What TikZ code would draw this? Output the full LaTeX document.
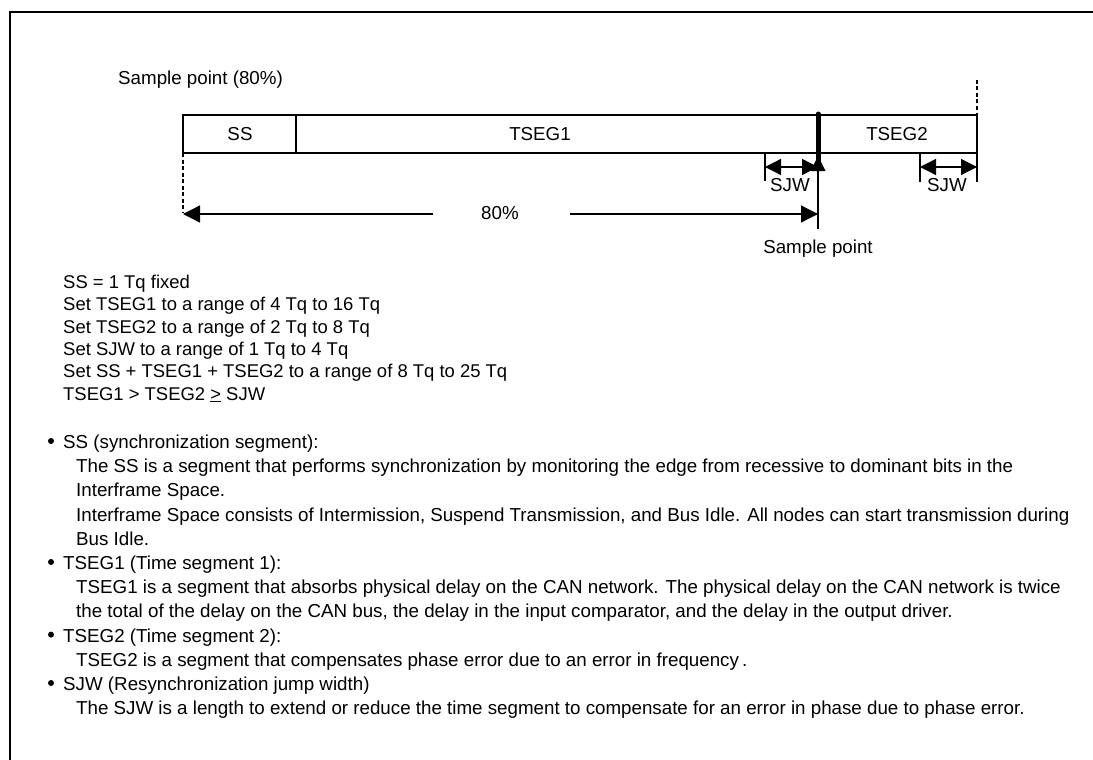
\documentclass[tikz,border=0pt]{standalone}
\usepackage{fontspec}
\setmainfont{Liberation Sans}
\usetikzlibrary{arrows.meta}
\newcommand\myfs{\fontsize{18.75}{22}\selectfont}
\newcommand\myfsb{\fontsize{18.45}{22}\selectfont}
\tikzset{
  txt/.style={font=\myfs, inner sep=0pt, anchor=base west},
  rtxt/.style={font=\myfsb, inner sep=0pt, anchor=base west},
  lbl/.style={font=\myfs, inner sep=0pt, anchor=base},
  frameline/.style={line width=2pt},
  barline/.style={line width=1.4pt},
  thin/.style={line width=1.3pt},
  dashln/.style={line width=1.3pt, dash pattern=on 4pt off 2.5pt},
  dim/.style={line width=1.3pt, -{Triangle[length=17pt,width=17pt]}},
  dimboth/.style={line width=1.3pt, {Triangle[length=16pt,width=16pt]}-{Triangle[length=16pt,width=16pt]}},
  bul/.style={circle, fill=black, inner sep=0pt, minimum size=6pt},
}
\begin{document}
\begin{tikzpicture}[x=1pt,y=-1pt]
\useasboundingbox (0,0) rectangle (1093,760);
% frame
\draw[frameline] (10,770) -- (10,12) -- (1100,12);

% coordinates
\coordinate (bTL) at (183,115);
\coordinate (bBR) at (977,153);
\coordinate (d1t) at (296,115); \coordinate (d1b) at (296,153);
\coordinate (spT) at (818,114); \coordinate (spM) at (818,165);
\coordinate (spB) at (818,153); \coordinate (spE) at (818,229);
\coordinate (rdT) at (977,80); \coordinate (rdB) at (977,115);
\coordinate (ldT) at (183,153); \coordinate (ldB) at (183,212);

% bar
\draw[barline] (bTL) rectangle (bBR);
\draw[barline] (d1t) -- (d1b);
\node[lbl] (ss) at (240,140.7) {SS};
\node[lbl] (t1) at (540,140.7) {TSEG1};
\node[lbl] (t2) at (897,140.7) {TSEG2};

% sample point top label
\node[txt] (sp80) at (118,84.7) {Sample point (80\%)};

% dashed lines
\draw[dashln] (rdT) -- (rdB);
\draw[dashln] (ldT) -- (ldB);

% sample point marker
\draw[line width=5pt, line cap=round] (spT) -- (spM);
\fill (818,156) -- (825.5,171) -- (810.5,171) -- cycle;
\draw[thin] (spB) -- (spE);

% 80% dimension
\node[lbl] (p80) at (500,219.7) {80\%};
\coordinate (a1s) at (433,214); \coordinate (a1e) at (183,214);
\coordinate (a2s) at (570,214); \coordinate (a2e) at (818,214);
\draw[dim] (a1s) -- (a1e);
\draw[dim] (a2s) -- (a2e);

% SJW left
\coordinate (s1t) at (765,153); \coordinate (s1b) at (765,181);
\draw[thin] (s1t) -- (s1b);
\coordinate (s1l) at (765,167); \coordinate (s1r) at (818,167);
\draw[dimboth] (s1l) -- (s1r);
\node[lbl] (sjw1) at (790,191.7) {SJW};

% SJW right
\coordinate (s2t) at (920,153); \coordinate (s2b) at (920,182);
\coordinate (s3t) at (977,153); \coordinate (s3b) at (977,182);
\draw[thin] (s2t) -- (s2b);
\draw[thin] (s3t) -- (s3b);
\coordinate (s2l) at (920,167); \coordinate (s2r) at (977,167);
\draw[dimboth] (s2l) -- (s2r);
\node[lbl] (sjw2) at (947,191.7) {SJW};

\node[lbl] (spl) at (818,253.7) {Sample point};

% rules block
\node[rtxt] (r1) at (63,288.5) {SS = 1 Tq fixed};
\node[rtxt] (r2) at (63,310.8) {Set TSEG1 to a range of 4 Tq to 16 Tq};
\node[rtxt] (r3) at (63,333.1) {Set TSEG2 to a range of 2 Tq to 8 Tq};
\node[rtxt] (r4) at (63,355.5) {Set SJW to a range of 1 Tq to 4 Tq};
\node[rtxt] (r5) at (63,377.8) {Set SS + TSEG1 + TSEG2 to a range of 8 Tq to 25 Tq};
\node[rtxt] (r6) at (63,400.1) {TSEG1 > TSEG2 \underline{>} SJW};

% bullet descriptions
\node[bul] (b1) at (51,441) {};
\node[txt] (h1) at (63,448.5) {SS (synchronization segment):};
\node[txt] (l1) at (76,472.7) {The SS is a segment that performs synchronization by monitoring the edge from recessive to dominant bits in the};
\node[txt] (l2) at (76,496.9) {Interframe Space.};
\node[txt] (l3) at (76,521.1) {Interframe Space consists of Intermission, Suspend Transmission, and Bus Idle. All nodes can start transmission during};
\node[txt] (l4) at (76,545.3) {Bus Idle.};
\node[bul] (b2) at (51,562.0) {};
\node[txt] (h2) at (63,569.5) {TSEG1 (Time segment 1):};
\node[txt] (l5) at (76,593.7) {TSEG1 is a segment that absorbs physical delay on the CAN network. The physical delay on the CAN network is twice};
\node[txt] (l6) at (76,617.9) {the total of the delay on the CAN bus, the delay in the input comparator, and the delay in the output driver.};
\node[bul] (b3) at (51,634.6) {};
\node[txt] (h3) at (63,642.1) {TSEG2 (Time segment 2):};
\node[txt] (l7) at (76,666.3) {TSEG2 is a segment that compensates phase error due to an error in frequency\,.};
\node[bul] (b4) at (51,683.0) {};
\node[txt] (h4) at (63,690.5) {SJW (Resynchronization jump width)};
\node[txt] (l8) at (76,714.7) {The SJW is a length to extend or reduce the time segment to compensate for an error in phase due to phase error.};
\end{tikzpicture}
\end{document}
